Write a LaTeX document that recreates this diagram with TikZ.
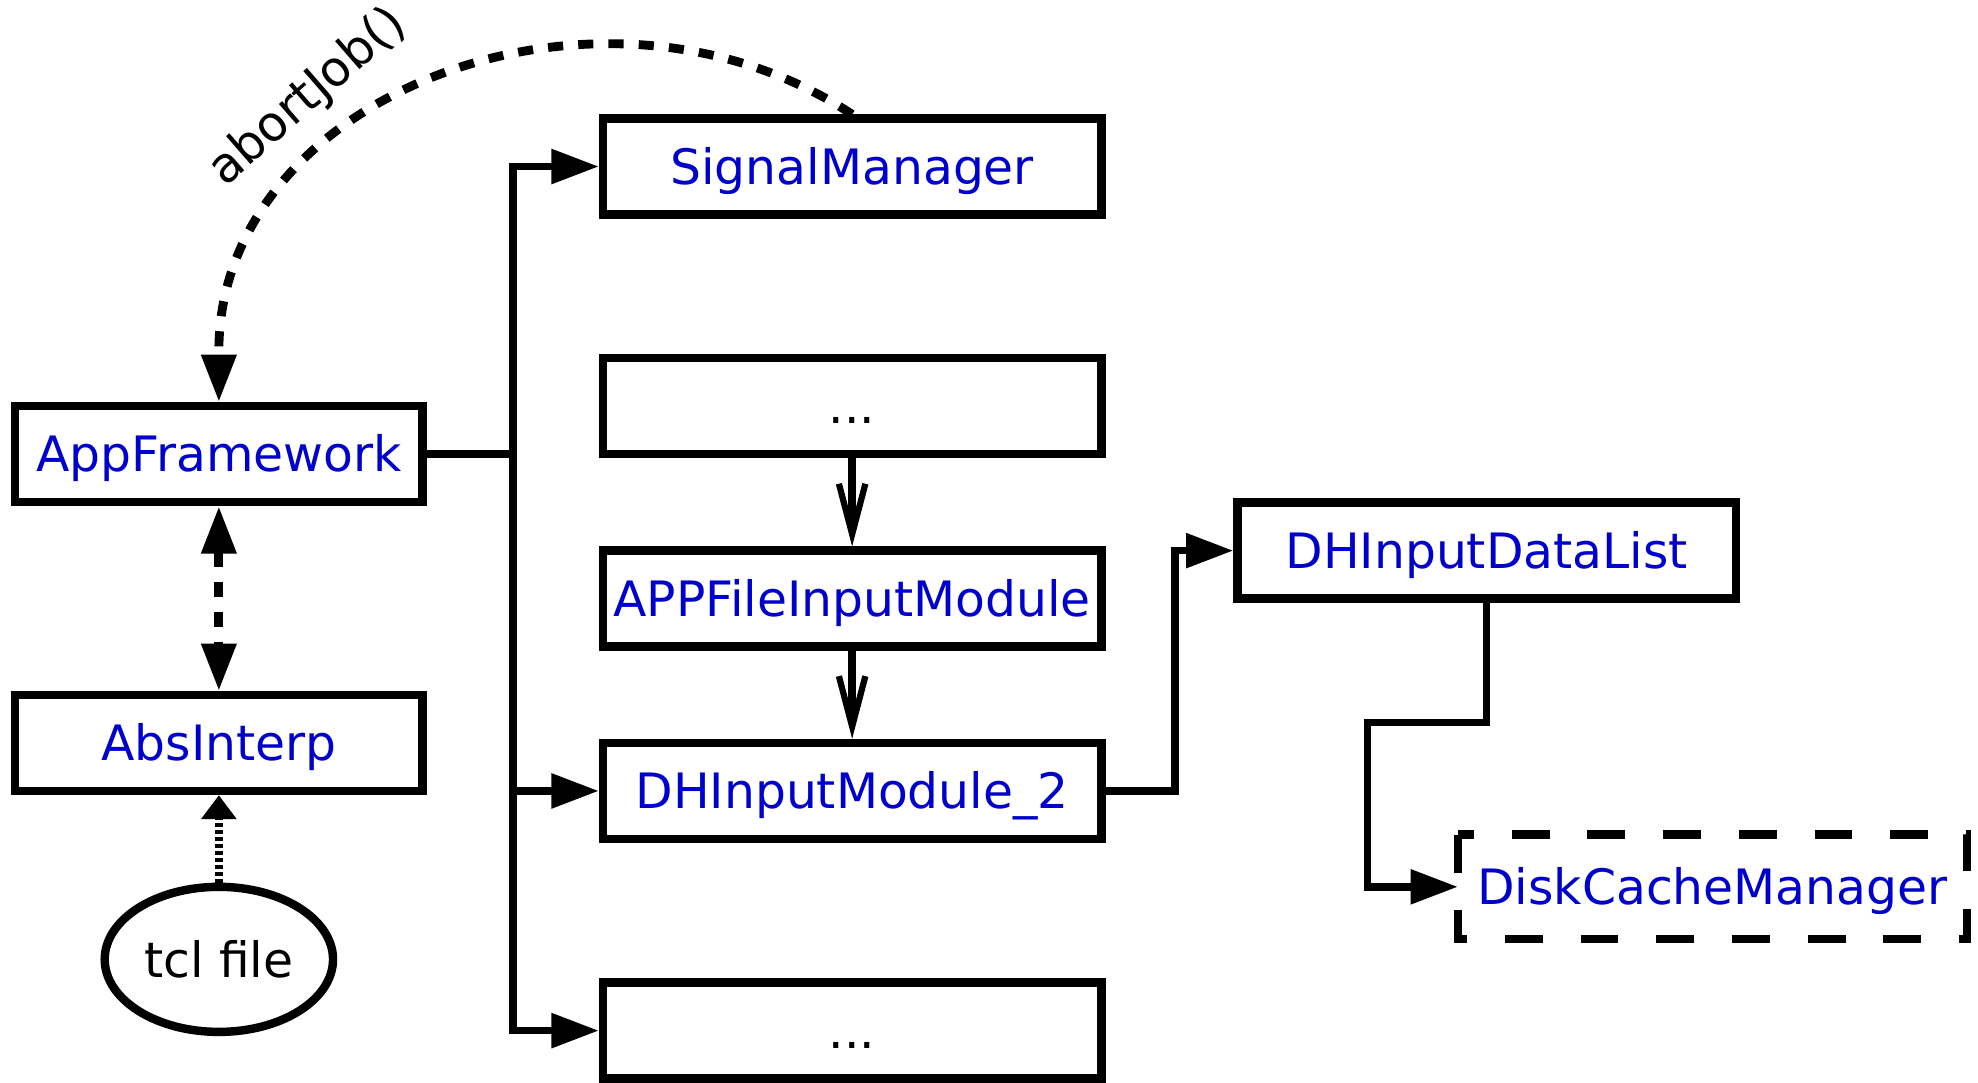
\documentclass[tikz,border=0pt]{standalone}
\usepackage{fontspec}
\setmainfont{DejaVu Sans}
\usepackage{tikz}
\usetikzlibrary{positioning,
        shapes,
        arrows.meta}
\usepackage{xcolor}
\definecolor{clsblue}{RGB}{0,0,204}

\begin{document}
\begin{tikzpicture}[
        lbl/.style={font=\fontsize{22}{26}\selectfont},
        box/.style={lbl,rectangle,draw,line width=3.8pt,minimum width=7.9cm,
                minimum height=1.52cm,inner sep=0pt,text height=16pt,text depth=0pt,text=clsblue},
        flow/.style={line width=3.4pt,-{Triangle[length=0.75cm,width=0.53cm]}},
        calls/.style={line width=3.4pt,-{Straight Barb[length=0.8cm,width=0.42cm,line width=2.8pt] .}},
        dashlink/.style={line width=4pt,dash pattern=on 0.24cm off 0.24cm}
        ]
        \useasboundingbox (0,0) rectangle (31.36,17.16);

        \node [box] (sig) at (13.51,14.52) {SignalManager};
        \node [box,text=black] (more1) at (13.51,10.72) {...};
        \node [box] (appin) at (13.51,7.67) {APPFileInputModule};
        \node [box] (dhin) at (13.51,4.62) {DHInputModule\_2};
        \node [box,text=black] (more2) at (13.51,0.82) {...};
        \node [box,minimum width=6.46cm] (app) at (3.47,9.96) {AppFramework};
        \node [box,minimum width=6.46cm] (abs) at (3.47,5.38) {AbsInterp};
        \node [lbl,ellipse,draw,line width=3.8pt,minimum width=3.62cm,minimum height=2.3cm,
                inner sep=0pt,text height=16pt,text depth=0pt] (tcl) at (3.47,1.95) {tcl file};
        \node [box] (dhlist) at (23.57,8.43) {DHInputDataList};
        \node [box,draw=none,minimum width=7.94cm] (disk) at (27.15,3.10) {DiskCacheManager};
        \draw [line width=3.8pt,dash pattern=on 0.6cm off 0.6cm] (disk.north west) -- (disk.south west)
                -- (disk.south east) -- (disk.north east) -- cycle;
        \coordinate (bus) at (8.13,0);

        \draw [flow] (app.east) -- (app.east -| bus) |- (sig.west);
        \draw [flow] (app.east -| bus) |- (dhin.west);
        \draw [flow] (app.east -| bus) |- (more2.west);
        \draw [calls] (more1.south) -- (appin.north);
        \draw [calls] (appin.south) -- (dhin.north);
        \draw [flow] (dhin.east) -- ++(1.1,0) |- (dhlist.west);
        \draw [flow] (dhlist.south) -- ++(0,-1.9) -- ++(-1.89,0) |- (disk.west);

        \draw [dashlink,{Triangle[length=0.75cm,width=0.53cm]}-{Triangle[length=0.75cm,width=0.53cm]}] (app.south) -- (abs.north);
        \draw [line width=3.8pt,dash pattern=on 0.065cm off 0.045cm,-{Triangle[length=0.38cm,width=0.54cm]}] (tcl.north) -- (abs.south);

        \draw [dashlink,-{Triangle[length=0.75cm,width=0.53cm]}] (sig.north) .. controls +(-3.98,2.62) and +(0,4.1)
                .. ([yshift=0.81cm]app.north) -- (app.north);
        \node [lbl,rotate=41] (abort) at (4.88,15.62) {abortJob()};
\end{tikzpicture}
\end{document}
